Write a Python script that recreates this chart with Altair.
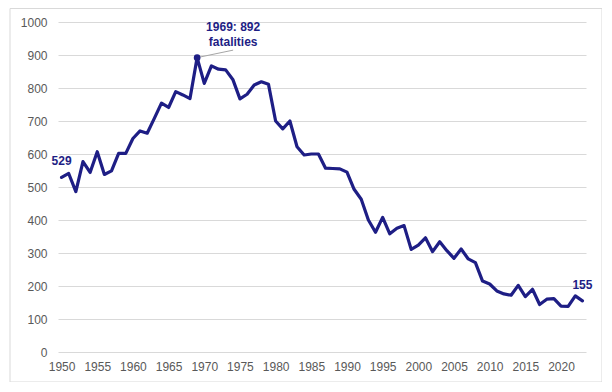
import altair as alt
import pandas as pd

years = list(range(1950, 2024))
fatalities = [529, 541, 486, 577, 544, 607, 538, 549, 602, 602,
              647, 670, 663, 708, 754, 741, 789, 779, 768, 892,
              814, 867, 857, 855, 826, 767, 781, 809, 819, 811,
              700, 676, 700, 622, 597, 600, 600, 557, 556, 555,
              545, 493, 463, 400, 363, 408, 358, 375, 383, 311,
              324, 346, 304, 334, 307, 284, 312, 282, 271, 215,
              206, 185, 176, 172, 202, 168, 190, 144, 160, 162,
              139, 138, 170, 155]
x_ticks = list(range(1950, 2021, 5))
y_ticks = list(range(0, 1001, 100))

peak_year = 1969
peak_label = ["1969: 892", "fatalities"]

df = pd.DataFrame({"year": years, "fatalities": fatalities})
peak = df[df.year == peak_year].copy()
peak["label"] = [peak_label]
first = df.iloc[[0]].copy()
first["label"] = first["fatalities"].astype(str)
last = df.iloc[[-1]].copy()
last["label"] = last["fatalities"].astype(str)
ends = pd.concat([first, last])

NAVY = "#1e1e85"
FONT = "Liberation Sans"

x_scale = alt.Scale(domain=[1949.5, 2023.5], nice=False, zero=False)
y_scale = alt.Scale(domain=[0, 1000], nice=False)
x_axis = alt.Axis(values=x_ticks, format="d", title=None, grid=False,
                  domain=False, ticks=False, labelPadding=9,
                  labelFont=FONT, labelFontSize=12, labelColor="#595959")
y_axis = alt.Axis(values=y_ticks, format="d", title=None, grid=True, gridColor="#d9d9d9",
                  gridWidth=1, domain=False, ticks=False, labelPadding=11,
                  labelFont=FONT, labelFontSize=12, labelColor="#595959")


def X(field="year"):
    return alt.X(f"{field}:Q", scale=x_scale, axis=x_axis)


def Y(field="fatalities"):
    return alt.Y(f"{field}:Q", scale=y_scale, axis=y_axis)


base = alt.Chart(df)

border = alt.Chart(pd.DataFrame({"a": [0]})).mark_rect(
    fill=None, stroke="#d9d9d9", strokeWidth=1
).encode(x=alt.value(-48), x2=alt.value(544), y=alt.value(-13.5), y2=alt.value(360))

line = base.mark_line(color=NAVY, strokeWidth=3.2, strokeJoin="round", strokeCap="round").encode(
    x=X(), y=Y())

leader = alt.Chart(peak).mark_rule(color="#a6a6a6", strokeWidth=1, x2Offset=36, y2Offset=-7.5).encode(
    x=X(), y=Y(), x2="year:Q", y2="fatalities:Q")

dot = alt.Chart(peak).mark_point(filled=True, color=NAVY, size=45, opacity=1).encode(
    x=X(), y=Y())

peak_text = alt.Chart(peak).mark_text(
    color=NAVY, font=FONT, fontSize=12, fontWeight="bold", align="center",
    baseline="alphabetic", dx=36, dy=-27, lineHeight=15
).encode(x=X(), y=Y(), text="label")

end_text = alt.Chart(ends).mark_text(
    color=NAVY, font=FONT, fontSize=12, fontWeight="bold", align="center",
    baseline="alphabetic", dy=-12
).encode(x=X(), y=Y(), text="label")

chart = alt.layer(line, border, leader, dot, peak_text, end_text).properties(
    width=528, height=330,
    padding={"left": 50, "top": 14, "right": 16, "bottom": 30},
    autosize=alt.AutoSizeParams(type="none"),
    background="white"
).configure_view(stroke=None)

chart.save("out.html", embed_options={"renderer": "svg", "actions": False})
